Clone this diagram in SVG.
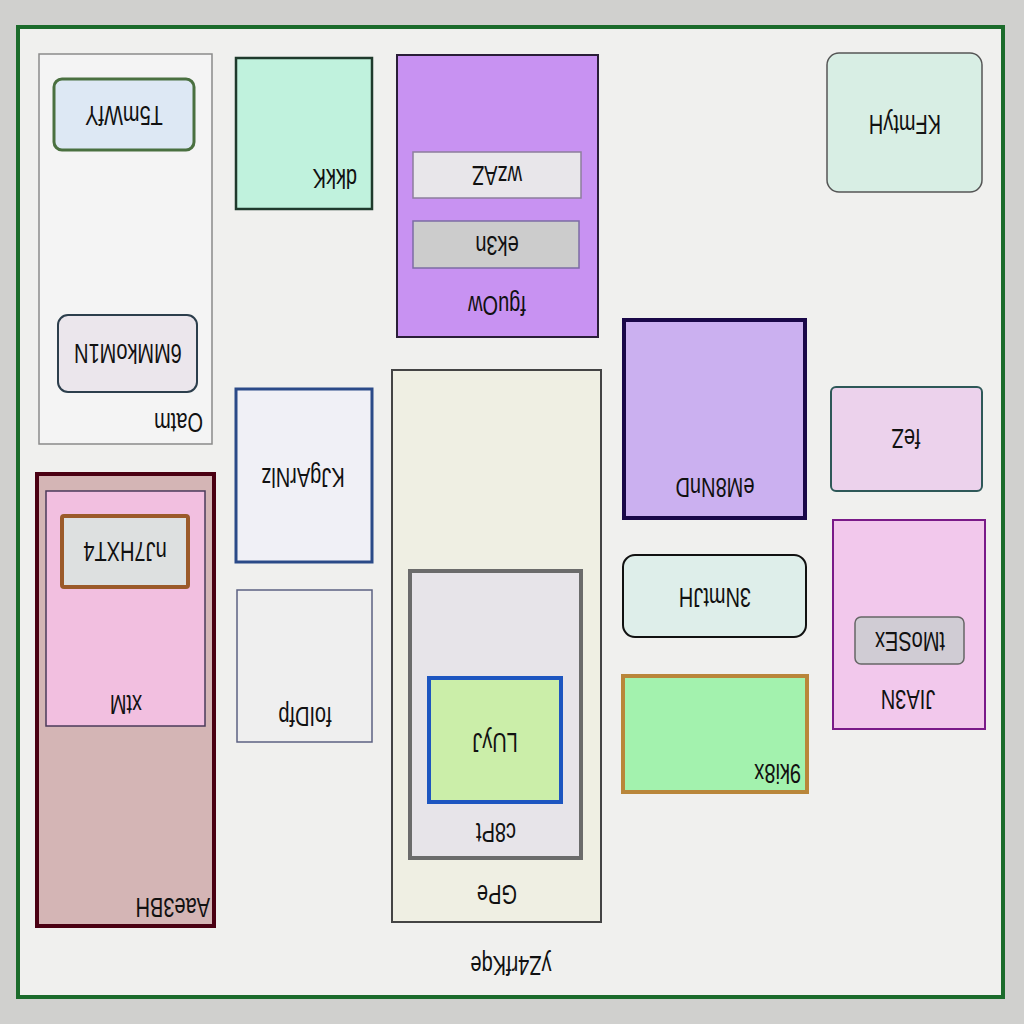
<svg xmlns="http://www.w3.org/2000/svg" width="1024" height="1024" viewBox="0 0 1024 1024">
<style>
.t{font-family:"Liberation Sans",Arial,sans-serif;font-size:20px;fill:#111;text-anchor:middle}
.s{text-anchor:start}
</style>
<rect x="0" y="0" width="1024" height="1024" fill="#d0d0ce"/>
<g id="yZ4rfKqe">
<rect x="18" y="27" width="985" height="970" fill="#f0f0ee" stroke="#1b6b2b" stroke-width="4"/>
<text class="t" transform="translate(511 965) rotate(180) scale(1 1.35)" y="7">yZ4rfKqe</text>
</g>
<g id="Oatm">
<rect x="39" y="54" width="173" height="390" fill="#f4f4f4" stroke="#8a8a8a" stroke-width="1.5"/>
<text class="t s" transform="translate(203 422) rotate(180) scale(1 1.35)" y="7">Oatm</text>
</g>
<g id="T5mWfY">
<rect x="54" y="79" width="140" height="71" rx="8" fill="#dde8f4" stroke="#4a7040" stroke-width="3"/>
<text class="t" transform="translate(124 115) rotate(180) scale(1 1.35)" y="7">T5mWfY</text>
</g>
<g id="6MMkoM1N">
<rect x="58" y="315" width="139" height="77" rx="10" fill="#ebe6ec" stroke="#2c3e4c" stroke-width="2"/>
<text class="t" transform="translate(128 353) rotate(180) scale(1 1.35)" y="7">6MMkoM1N</text>
</g>
<g id="dkkK">
<rect x="236" y="58" width="136" height="151" fill="#c0f2dd" stroke="#1f3a2c" stroke-width="2.5"/>
<text class="t s" transform="translate(357 178) rotate(180) scale(1 1.35)" y="7">dkkK</text>
</g>
<g id="fguOw">
<rect x="397" y="55" width="201" height="282" fill="#c892f2" stroke="#2a1e38" stroke-width="2"/>
<text class="t" transform="translate(497 305) rotate(180) scale(1 1.35)" y="7">fguOw</text>
</g>
<g id="wzAZ">
<rect x="413" y="152" width="168" height="46" fill="#e8e6ea" stroke="#8c7e9c" stroke-width="1.5"/>
<text class="t" transform="translate(497 175) rotate(180) scale(1 1.35)" y="7">wzAZ</text>
</g>
<g id="ek3n">
<rect x="413" y="221" width="166" height="47" fill="#cccccc" stroke="#7c6ca4" stroke-width="1.5"/>
<text class="t" transform="translate(497 245) rotate(180) scale(1 1.35)" y="7">ek3n</text>
</g>
<g id="KFmtyH">
<rect x="827" y="53" width="155" height="139" rx="12" fill="#d8eee4" stroke="#555" stroke-width="1.5"/>
<text class="t" transform="translate(905 124) rotate(180) scale(1 1.35)" y="7">KFmtyH</text>
</g>
<g id="KJgArNlz">
<rect x="236" y="389" width="136" height="173" fill="#f0f0f6" stroke="#2b4a88" stroke-width="3"/>
<text class="t" transform="translate(303 477) rotate(180) scale(1 1.35)" y="7">KJgArNlz</text>
</g>
<g id="foIDfp">
<rect x="237" y="590" width="135" height="152" fill="#efefef" stroke="#5c6282" stroke-width="1.5"/>
<text class="t" transform="translate(305 716) rotate(180) scale(1 1.35)" y="7">foIDfp</text>
</g>
<g id="GPe">
<rect x="392" y="370" width="209" height="552" fill="#efefe3" stroke="#444" stroke-width="2"/>
<text class="t" transform="translate(497 894) rotate(180) scale(1 1.35)" y="7">GPe</text>
</g>
<g id="c8Pt">
<rect x="410" y="571" width="171" height="287" fill="#e7e4e9" stroke="#6b6b6b" stroke-width="4"/>
<text class="t" transform="translate(496 832) rotate(180) scale(1 1.35)" y="7">c8Pt</text>
</g>
<g id="LUyJ">
<rect x="429" y="678" width="132" height="124" fill="#cbeea9" stroke="#1d55c0" stroke-width="4"/>
<text class="t" transform="translate(495 742) rotate(180) scale(1 1.35)" y="7">LUyJ</text>
</g>
<g id="eM8NnD">
<rect x="624" y="320" width="181" height="198" fill="#cbb0f0" stroke="#1a0848" stroke-width="4"/>
<text class="t" transform="translate(715 487) rotate(180) scale(1 1.35)" y="7">eM8NnD</text>
</g>
<g id="feZ">
<rect x="831" y="387" width="151" height="104" rx="5" fill="#ecd2ec" stroke="#2e5858" stroke-width="2"/>
<text class="t" transform="translate(906 438) rotate(180) scale(1 1.35)" y="7">feZ</text>
</g>
<g id="3NmtJH">
<rect x="623" y="555" width="183" height="82" rx="12" fill="#deeeea" stroke="#111" stroke-width="2"/>
<text class="t" transform="translate(715 597) rotate(180) scale(1 1.35)" y="7">3NmtJH</text>
</g>
<g id="JIA3N">
<rect x="833" y="520" width="152" height="209" fill="#f2c8ec" stroke="#7a1a88" stroke-width="2"/>
<text class="t" transform="translate(908 699) rotate(180) scale(1 1.35)" y="7">JIA3N</text>
</g>
<g id="tMoSEx">
<rect x="855" y="617" width="109" height="47" rx="6" fill="#d0ccd4" stroke="#666" stroke-width="1.5"/>
<text class="t" transform="translate(910 641) rotate(180) scale(1 1.35)" y="7">tMoSEx</text>
</g>
<g id="9ki8x">
<rect x="623" y="676" width="184" height="116" fill="#a3f2ae" stroke="#b9863a" stroke-width="4"/>
<text class="t s" transform="translate(801 773) rotate(180) scale(1 1.35)" y="7">9ki8x</text>
</g>
<g id="Aae3BH">
<rect x="37" y="474" width="177" height="452" fill="#d4b5b5" stroke="#4a0012" stroke-width="4"/>
<text class="t s" transform="translate(210 907) rotate(180) scale(1 1.35)" y="7">Aae3BH</text>
</g>
<g id="xtM">
<rect x="46" y="491" width="159" height="235" fill="#f2bfe0" stroke="#4a3a5a" stroke-width="1.5"/>
<text class="t" transform="translate(126 704) rotate(180) scale(1 1.35)" y="7">xtM</text>
</g>
<g id="nJ7HXT4">
<rect x="62" y="516" width="126" height="71" rx="2" fill="#dde0e0" stroke="#9b5a2a" stroke-width="4"/>
<text class="t" transform="translate(125 551) rotate(180) scale(1 1.35)" y="7">nJ7HXT4</text>
</g>
<g id="connectors"/>
</svg>
